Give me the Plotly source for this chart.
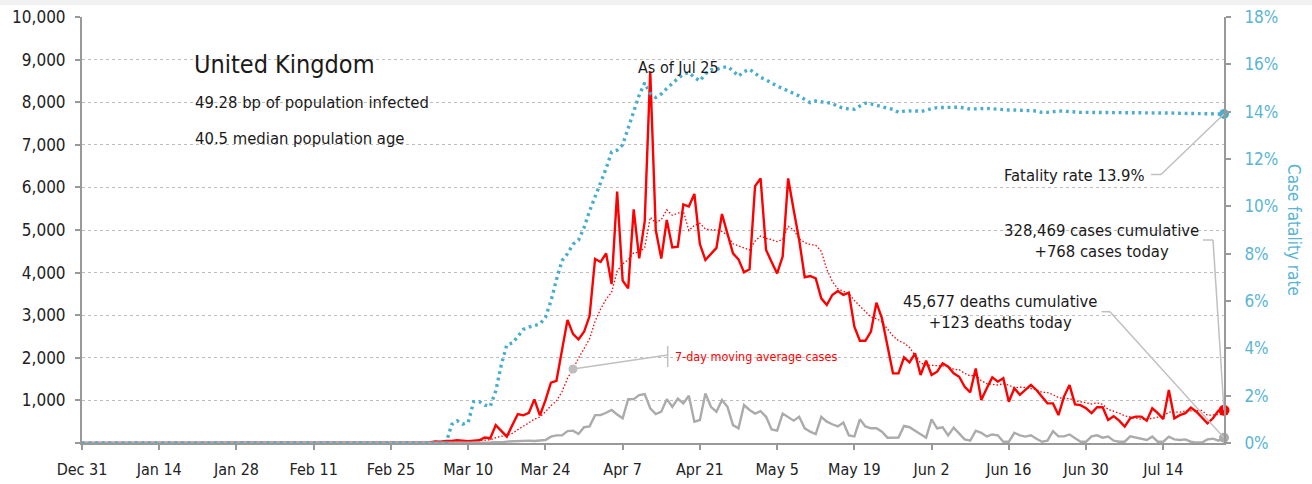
import plotly.graph_objects as go
import pandas as pd

# ---------------- data ----------------
dates = pd.date_range("2019-12-31", "2020-07-25", freq="D")  # 208 days

cases = [
    0, 0, 0, 0, 0, 0, 0, 0, 0, 0,
    0, 0, 0, 0, 0, 0, 0, 0, 0, 0,
    0, 0, 0, 0, 0, 0, 0, 0, 0, 0,
    0, 2, 0, 0, 0, 0, 0, 1, 0, 0,
    0, 4, 0, 1, 0, 0, 0, 0, 0, 0,
    0, 0, 0, 0, 0, 0, 0, 0, 3, 2,
    5, 12, 4, 11, 34, 29, 46, 46, 65, 50,
    45, 55, 65, 130, 110, 420, 290, 150, 420, 680,
    650, 710, 1025, 650, 1000, 1415, 1460, 2180, 2890, 2560,
    2430, 2610, 2980, 4320, 4250, 4450, 3730, 5900, 3810, 3630,
    5485, 4335, 5200, 8720, 5000, 4330, 5235, 4590, 4610, 5600,
    5550, 5845, 4670, 4295, 4450, 4580, 5375, 4920, 4450, 4310,
    4005, 4080, 6030, 6210, 4530, 4250, 3980, 4375, 6210, 5470,
    4765, 3890, 3920, 3865, 3395, 3240, 3475, 3570, 3475, 3530,
    2730, 2400, 2400, 2615, 3295, 2925, 2300, 1635, 1635, 2010,
    1890, 2105, 1595, 1935, 1595, 1675, 1870, 1790, 1635, 1555,
    1320, 1190, 1750, 1010, 1285, 1540, 1440, 1520, 970, 1285,
    1130, 1245, 1365, 1245, 1090, 930, 930, 655, 1090, 1360,
    905, 890, 815, 700, 840, 840, 540, 630, 525, 385,
    580, 620, 620, 525, 815, 700, 560, 1245, 580, 655,
    700, 830, 735, 605, 460, 580, 760, 768,
]

ma_cases = [
    0, 0, 0, 0, 0, 0, 0, 0, 0, 0,
    0, 0, 0, 0, 0, 0, 0, 0, 0, 0,
    0, 0, 0, 0, 0, 0, 0, 0, 0, 0,
    0, 0.3, 0.3, 0.3, 0.3, 0.3, 0.3, 0.4, 0.1, 0.1,
    0.1, 0.7, 0.7, 0.7, 0.7, 0.6, 0.6, 0.6, 0, 0,
    0, 0, 0, 0, 0, 0, 0, 0, 0.4, 0.7,
    1.4, 3.1, 3.7, 5.3, 10.1, 13.9, 20.1, 26, 33.6, 40.1,
    45, 48, 53, 65, 74, 125, 159, 174, 226, 314,
    389, 474, 561, 612, 734, 876, 987, 1206, 1517, 1736,
    1991, 2221, 2444, 2853, 3149, 3371, 3539, 4034, 4206, 4299,
    4465, 4477, 4584, 5297, 5169, 5243, 5472, 5344, 5384, 5441,
    4988, 5109, 5157, 5023, 5003, 4999, 4966, 4876, 4677, 4626,
    4584, 4531, 4739, 4858, 4802, 4774, 4726, 4779, 5084, 5004,
    4797, 4706, 4659, 4642, 4502, 4078, 3793, 3622, 3563, 3507,
    3345, 3203, 3083, 2960, 2921, 2842, 2666, 2510, 2401, 2345,
    2241, 2071, 1881, 1829, 1824, 1829, 1809, 1795, 1728, 1722,
    1634, 1576, 1587, 1464, 1392, 1379, 1362, 1391, 1359, 1293,
    1310, 1304, 1279, 1251, 1190, 1184, 1134, 1066, 1044, 1043,
    994, 966, 949, 916, 943, 907, 790, 751, 699, 637,
    620, 589, 557, 555, 581, 606, 631, 726, 721, 726,
    751, 753, 758, 764, 652, 652, 667, 677,
]

deaths = [
    0, 0, 0, 0, 0, 0, 0, 0, 0, 0,
    0, 0, 0, 0, 0, 0, 0, 0, 0, 0,
    0, 0, 0, 0, 0, 0, 0, 0, 0, 0,
    0, 0, 0, 0, 0, 0, 0, 0, 0, 0,
    0, 0, 0, 0, 0, 0, 0, 0, 0, 0,
    0, 0, 0, 0, 0, 0, 0, 0, 0, 0,
    0, 0, 0, 0, 0, 1, 1, 0, 2, 1,
    2, 1, 2, 10, 14, 20, 16, 33, 40, 33,
    40, 56, 48, 54, 70, 150, 180, 180, 280, 290,
    210, 370, 390, 655, 655, 710, 775, 670, 580, 1030,
    1030, 1125, 1150, 815, 680, 735, 1030, 850, 1045, 930,
    1110, 500, 540, 1165, 850, 735, 1010, 850, 420, 345,
    890, 775, 690, 745, 615, 320, 290, 690, 615, 525,
    615, 345, 265, 210, 615, 500, 440, 390, 480, 180,
    155, 555, 390, 345, 345, 265, 125, 125, 130, 400,
    370, 290, 210, 125, 555, 345, 370, 180, 360, 225,
    85, 55, 290, 240, 155, 200, 180, 30, 30, 240,
    180, 150, 180, 100, 30, 55, 280, 155, 155, 200,
    125, 30, 30, 155, 180, 125, 150, 55, 30, 30,
    155, 125, 85, 70, 150, 30, 30, 150, 85, 70,
    85, 30, 10, 10, 85, 100, 55, 123,
]

fatality_rate = [
    0, 0, 0, 0, 0, 0, 0, 0, 0, 0,
    0, 0, 0, 0, 0, 0, 0, 0, 0, 0,
    0, 0, 0, 0, 0, 0, 0, 0, 0, 0,
    0, 0, 0, 0, 0, 0, 0, 0, 0, 0,
    0, 0, 0, 0, 0, 0, 0, 0, 0, 0,
    0, 0, 0, 0, 0, 0, 0, 0, 0, 0,
    0, 0, 0, 0, 0, 0, 0, 0.78, 0.94, 0.8,
    0.87, 1.75, 1.75, 1.6, 1.55, 2.2, 3.3, 4.15, 4.22, 4.5,
    4.8, 4.9, 4.96, 5.03, 5.3, 6.0, 6.9, 7.7, 8.0, 8.4,
    8.57, 9.1, 9.8, 10.4, 11.05, 11.6, 12.3, 12.37, 12.6, 13.3,
    13.93, 14.7, 15.22, 14.77, 14.6, 14.75, 14.98, 15.2, 15.4, 15.58,
    15.65, 15.45, 15.3, 15.6, 15.77, 15.78, 15.86, 15.9, 15.73, 15.5,
    15.69, 15.79, 15.62, 15.45, 15.34, 15.2, 15.08, 14.98, 14.88, 14.77,
    14.66, 14.52, 14.38, 14.45, 14.42, 14.4, 14.35, 14.22, 14.15, 14.12,
    14.1, 14.24, 14.36, 14.33, 14.26, 14.2, 14.15, 14.1, 13.97, 14.02,
    14.03, 14.04, 14.0, 14.08, 14.13, 14.17, 14.18, 14.19, 14.21, 14.19,
    14.15, 14.11, 14.12, 14.14, 14.14, 14.12, 14.1, 14.06, 14.07, 14.07,
    14.07, 14.07, 14.04, 14.03, 13.97, 13.97, 14.0, 14.03, 14.02, 14.0,
    13.97, 13.97, 13.97, 13.97, 13.97, 13.97, 13.97, 13.97, 13.97, 13.97,
    13.96, 13.96, 13.95, 13.95, 13.95, 13.95, 13.94, 13.94, 13.94, 13.93,
    13.93, 13.93, 13.92, 13.92, 13.91, 13.9, 13.9, 13.9,
]

left_ticks = [0, 1000, 2000, 3000, 4000, 5000, 6000, 7000, 8000, 9000, 10000]
left_labels = ["", "1,000", "2,000", "3,000", "4,000", "5,000", "6,000",
               "7,000", "8,000", "9,000", "10,000"]
right_ticks = [0, 2, 4, 6, 8, 10, 12, 14, 16, 18]
right_labels = ["0%", "2%", "4%", "6%", "8%", "10%", "12%", "14%", "16%", "18%"]
x_ticks = list(dates[::14])

country = "United Kingdom"
info_lines = ["49.28 bp of population infected", "40.5 median population age"]
as_of = "As of Jul 25"
cfr_label = "Fatality rate 13.9%"
cases_label = "328,469 cases cumulative<br>+768 cases today"
deaths_label = "45,677 deaths cumulative<br>+123 deaths today"
ma_label = "7-day moving average cases"
ma_marker_day = 89

# ---------------- styling ----------------
W, H = 1312, 484
ML, MR, MT, MB = 82, 88, 17, 41
PW, PH = W - ML - MR, H - MT - MB
FONT = "Liberation Sans Narrow, DejaVu Sans Condensed, Arial Narrow, sans-serif"
RED = "#ff0000"
GREY = "#ababab"
TEAL = "#4aaecb"
TEAL_TXT = "#5ab5d3"
AXIS = "#999999"
LEAD = "#c0c0c0"
YMAX, Y2MAX = 10000, 18


def xd(px):
    return dates[0] + (px - ML) / PW * (dates[-1] - dates[0])


def yd(py):
    return (MT + PH - py) / PH * YMAX


def yd2(py):
    return (MT + PH - py) / PH * Y2MAX


def xp(px):
    return (px - ML) / PW


def yp(py):
    return (MT + PH - py) / PH


fig = go.Figure()

fig.add_trace(go.Scatter(x=dates, y=fatality_rate, yaxis="y2", mode="lines",
                         line=dict(color=TEAL, width=3.4, dash="2.8px,3.8px"),
                         hoverinfo="skip", showlegend=False))
fig.add_trace(go.Scatter(x=dates, y=ma_cases, mode="lines",
                         line=dict(color=RED, width=1.3, dash="1.5px,2px"),
                         hoverinfo="skip", showlegend=False))
fig.add_trace(go.Scatter(x=dates, y=cases, mode="lines",
                         line=dict(color=RED, width=2.4),
                         hoverinfo="skip", showlegend=False))
fig.add_trace(go.Scatter(x=dates, y=deaths, mode="lines",
                         line=dict(color=GREY, width=2.4),
                         hoverinfo="skip", showlegend=False))

# end markers
fig.add_trace(go.Scatter(x=[dates[-1]], y=[fatality_rate[-1]], yaxis="y2", mode="markers",
                         marker=dict(color=TEAL, size=10), cliponaxis=False,
                         hoverinfo="skip", showlegend=False))
fig.add_trace(go.Scatter(x=[dates[-1]], y=[cases[-1]], mode="markers",
                         marker=dict(color=RED, size=11), cliponaxis=False,
                         hoverinfo="skip", showlegend=False))
fig.add_trace(go.Scatter(x=[dates[-1]], y=[deaths[-1]], mode="markers",
                         marker=dict(color=GREY, size=10), cliponaxis=False,
                         hoverinfo="skip", showlegend=False))
fig.add_trace(go.Scatter(x=[dates[ma_marker_day]], y=[ma_cases[ma_marker_day]], mode="markers",
                         marker=dict(color="#bdbdbd", size=9), cliponaxis=False,
                         hoverinfo="skip", showlegend=False))

shapes = []
# top light band
shapes.append(dict(type="rect", xref="paper", yref="paper",
                   x0=xp(0), x1=xp(W), y0=yp(0), y1=yp(5),
                   fillcolor="#f1f1f1", line=dict(width=0), layer="below"))


def seg(x0, y0, x1, y1, yref="y"):
    shapes.append(dict(type="line", xref="x", yref=yref, x0=x0, y0=y0, x1=x1, y1=y1,
                       line=dict(color=LEAD, width=1.5)))


# fatality leader
seg(xd(1151), yd2(174.5), xd(1161), yd2(174.5), "y2")
seg(xd(1161), yd2(174.5), dates[-1], fatality_rate[-1], "y2")
# cases leader
seg(xd(1203), yd(240), xd(1213), yd(240))
seg(xd(1213), yd(240), dates[-1], cases[-1])
# deaths leader
seg(xd(1101.5), yd(311.7), xd(1110), yd(311.7))
seg(xd(1110), yd(311.7), dates[-1], deaths[-1])
# moving average label leader
seg(xd(667.7), yd(346), xd(667.7), yd(367))
seg(xd(667.7), yd(355), dates[ma_marker_day], ma_cases[ma_marker_day])

ann = []


def text(px, py, t, size, color="#1a1a1a", xanchor="left", align="left", angle=0):
    ann.append(dict(xref="paper", yref="paper", x=xp(px), y=yp(py), text=t,
                    showarrow=False, xanchor=xanchor, yanchor="middle", align=align,
                    textangle=angle, font=dict(family=FONT, size=size, color=color)))


text(192, 65, country, 25)
text(193, 102, info_lines[0], 16.5)
text(193, 138, info_lines[1], 16.5)
text(678, 68, as_of, 16, xanchor="center")
text(1147, 175, cfr_label, 16.5, xanchor="right")
text(1101, 241, cases_label, 16.5, xanchor="center", align="center")
text(1000, 312, deaths_label, 16.5, xanchor="center", align="center")
text(673, 356, ma_label, 12.5, color=RED)
text(1294, 230, "Case fatality rate", 17, color=TEAL_TXT, xanchor="center", angle=90)

fig.update_layout(
    width=W, height=H,
    margin=dict(l=ML, r=MR, t=MT, b=MB, pad=0),
    paper_bgcolor="white", plot_bgcolor="white",
    font=dict(family=FONT, size=16, color="#222"),
    showlegend=False,
    shapes=shapes, annotations=ann,
    xaxis=dict(type="date", range=[dates[0], dates[-1]], tickvals=x_ticks,
               tickformat="%b %-d", ticks="outside", ticklen=5, tickwidth=1.5,
               tickcolor=AXIS, showline=True, linecolor=AXIS, linewidth=2,
               showgrid=False, zeroline=False, automargin=False, ticklabelstandoff=6,
               tickfont=dict(family=FONT, size=16, color="#222")),
    yaxis=dict(range=[0, YMAX], tickvals=left_ticks, ticktext=left_labels,
               ticks="outside", ticklen=5, tickwidth=1.5, tickcolor=AXIS,
               showline=True, linecolor=AXIS, linewidth=2, automargin=False,
               showgrid=True, gridcolor="#bdbdbd", griddash="dot", gridwidth=1,
               zeroline=False, ticklabelstandoff=6,
               tickfont=dict(family=FONT, size=17, color="#222")),
    yaxis2=dict(range=[0, Y2MAX], tickvals=right_ticks, ticktext=right_labels,
                overlaying="y", side="right", anchor="x", automargin=False,
                ticks="outside", ticklen=5, tickwidth=1.5, tickcolor=AXIS,
                showline=True, linecolor=AXIS, linewidth=2,
                showgrid=False, zeroline=False, ticklabelstandoff=10,
                tickfont=dict(family=FONT, size=17, color=TEAL_TXT)),
)

fig.write_html("out.html", config={"displayModeBar": False},
               post_script="document.body.style.margin='0';")
